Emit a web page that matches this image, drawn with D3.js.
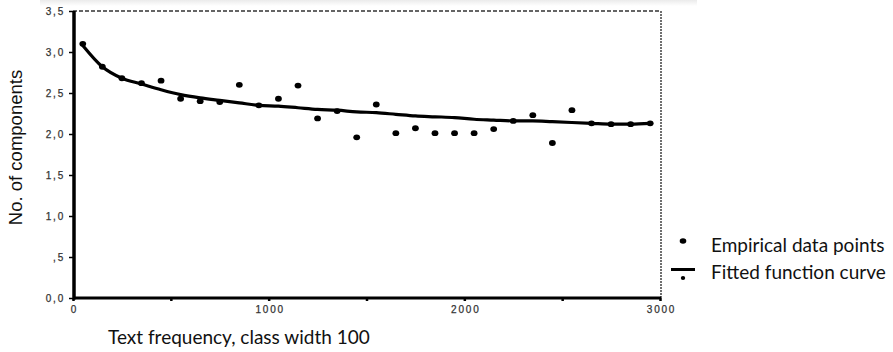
<!DOCTYPE html>
<html lang="en">
<head>
<meta charset="UTF-8">
<title>Components vs text frequency</title>
<style>
  body { margin: 0; background: #fff; }
  .tick text { font-family: "Liberation Sans", Arial, sans-serif; font-size: 10px; letter-spacing: 1.8px; fill: #333; stroke: #333; stroke-width: 0.25px; }
  .lbl { font-family: Lato, "Open Sans", sans-serif; fill: #111; }
</style>
</head>
<body>
<script src="https://cdn.jsdelivr.net/npm/d3@7"></script>
<script>
    // class midpoints (class width 100)
    const freq = [50, 150, 250, 350, 450, 550, 650, 750, 850, 950,
                  1050, 1150, 1250, 1350, 1450, 1550, 1650, 1750, 1850, 1950,
                  2050, 2150, 2250, 2350, 2450, 2550, 2650, 2750, 2850, 2950];
    const empirical = [3.10, 2.82, 2.68, 2.62, 2.65, 2.43, 2.40, 2.39, 2.60, 2.35,
                       2.43, 2.59, 2.19, 2.28, 1.96, 2.36, 2.01, 2.07, 2.01, 2.01,
                       2.01, 2.06, 2.16, 2.23, 1.89, 2.29, 2.13, 2.12, 2.12, 2.13];
    const fitted = [3.08, 2.82, 2.68, 2.61, 2.54, 2.48, 2.44, 2.41, 2.38, 2.35,
                    2.34, 2.32, 2.30, 2.29, 2.27, 2.26, 2.24, 2.22, 2.21, 2.20,
                    2.18, 2.17, 2.16, 2.16, 2.15, 2.14, 2.13, 2.12, 2.12, 2.13];
    const yTicks = [0, 0.5, 1, 1.5, 2, 2.5, 3, 3.5];
    const yTickLabels = ["0,0", ",5", "1,0", "1,5", "2,0", "2,5", "3,0", "3,5"];
    const xTicks = [0, 500, 1000, 1500, 2000, 2500, 3000];
    const xTickLabels = ["0", "", "1000", "", "2000", "", "3000"];

    const width = 893, height = 352;
    const margin = ({top: 11, right: 233, bottom: 54, left: 73});

    const x = d3.scaleLinear()
        .domain([0, 3000])
        .range([margin.left, width - margin.right]);

    const y = d3.scaleLinear()
        .domain([0, 3.5])
        .range([height - margin.bottom, margin.top]);

    const svg = d3.select("body").append("svg")
        .attr("width", width)
        .attr("height", height)
        .attr("viewBox", [0, 0, width, height]);

    // faint grey strip at the very top (scan artefact)
    const grad = svg.append("defs").append("linearGradient")
        .attr("id", "strip").attr("x1", 0).attr("x2", 0).attr("y1", 0).attr("y2", 1);
    grad.append("stop").attr("offset", 0).attr("stop-color", "#ebebeb");
    grad.append("stop").attr("offset", 1).attr("stop-color", "#ffffff");
    svg.append("rect")
        .attr("x", 40).attr("y", 0).attr("width", 657).attr("height", 6)
        .attr("fill", "url(#strip)");

    // dashed frame top and right
    svg.append("line")
        .attr("x1", x(0)).attr("x2", x(3000) + 1)
        .attr("y1", y(3.5)).attr("y2", y(3.5))
        .attr("stroke", "#333").attr("stroke-width", 1.4)
        .attr("stroke-dasharray", "4,2");
    svg.append("line")
        .attr("x1", x(3000) + 1).attr("x2", x(3000) + 1)
        .attr("y1", y(3.5)).attr("y2", y(0))
        .attr("stroke", "#333").attr("stroke-width", 1.4)
        .attr("stroke-dasharray", "2,1");

    const yAxis = g => g
        .attr("transform", `translate(${x(0)},0)`)
        .call(d3.axisLeft(y).tickValues(yTicks)
            .tickFormat((d, i) => yTickLabels[i])
            .tickSize(4).tickPadding(4))
        .call(g => g.select(".domain").remove())
        .call(g => g.selectAll(".tick line").attr("stroke", "#000").attr("stroke-width", 1.5));

    const xAxis = g => g
        .attr("transform", `translate(0,${y(0)})`)
        .call(d3.axisBottom(x).tickValues(xTicks)
            .tickFormat((d, i) => xTickLabels[i])
            .tickSize(3).tickPadding(5))
        .call(g => g.select(".domain").remove())
        .call(g => g.selectAll(".tick line").attr("stroke", "#000").attr("stroke-width", 2.5))
        .call(g => g.selectAll(".tick text").attr("dx", "1px"));

    svg.append("g").call(yAxis);
    svg.append("g").call(xAxis);

    // heavy axis lines
    svg.append("line")
        .attr("x1", x(0) + 1).attr("x2", x(0) + 1)
        .attr("y1", y(3.5)).attr("y2", y(0) + 1.5)
        .attr("stroke", "#000").attr("stroke-width", 3.5);
    svg.append("line")
        .attr("x1", x(0)).attr("x2", x(3000) + 1)
        .attr("y1", y(0)).attr("y2", y(0))
        .attr("stroke", "#000").attr("stroke-width", 3);

    // fitted curve
    const line = d3.line()
        .x((d, i) => x(freq[i]))
        .y(d => y(d))
        .curve(d3.curveMonotoneX);

    svg.append("path")
        .datum(fitted)
        .attr("fill", "none")
        .attr("stroke", "#000")
        .attr("stroke-width", 3.2)
        .attr("stroke-linecap", "round")
        .attr("d", line);

    // empirical points
    svg.append("g")
        .selectAll("ellipse")
        .data(empirical)
        .join("ellipse")
        .attr("cx", (d, i) => x(freq[i]))
        .attr("cy", d => y(d))
        .attr("rx", 3.4)
        .attr("ry", 2.9)
        .attr("fill", "#000");

    // axis titles
    svg.append("text")
        .attr("transform", `translate(21.5,${147.5}) rotate(-90)`)
        .attr("text-anchor", "middle")
        .style("font-family", "'Liberation Sans', Arial, sans-serif")
        .style("font-size", "18.5px")
        .attr("fill", "#111")
        .text("No. of components");

    svg.append("text")
        .attr("class", "lbl")
        .attr("x", 108).attr("y", 344)
        .style("font-size", "19px")
        .text("Text frequency, class width 100");

    // legend
    const legend = svg.append("g");
    legend.append("ellipse")
        .attr("cx", 683).attr("cy", 241).attr("rx", 3.3).attr("ry", 2.8).attr("fill", "#000");
    legend.append("text")
        .attr("class", "lbl")
        .attr("x", 711).attr("y", 251.5)
        .style("font-size", "19px")
        .text("Empirical data points");
    legend.append("line")
        .attr("x1", 671).attr("x2", 695).attr("y1", 269.5).attr("y2", 269.5)
        .attr("stroke", "#000").attr("stroke-width", 3);
    legend.append("ellipse")
        .attr("cx", 683).attr("cy", 278).attr("rx", 2.2).attr("ry", 1.9).attr("fill", "#000");
    legend.append("text")
        .attr("class", "lbl")
        .attr("x", 711).attr("y", 279)
        .style("font-size", "19px")
        .text("Fitted function curve");
</script>
</body>
</html>
